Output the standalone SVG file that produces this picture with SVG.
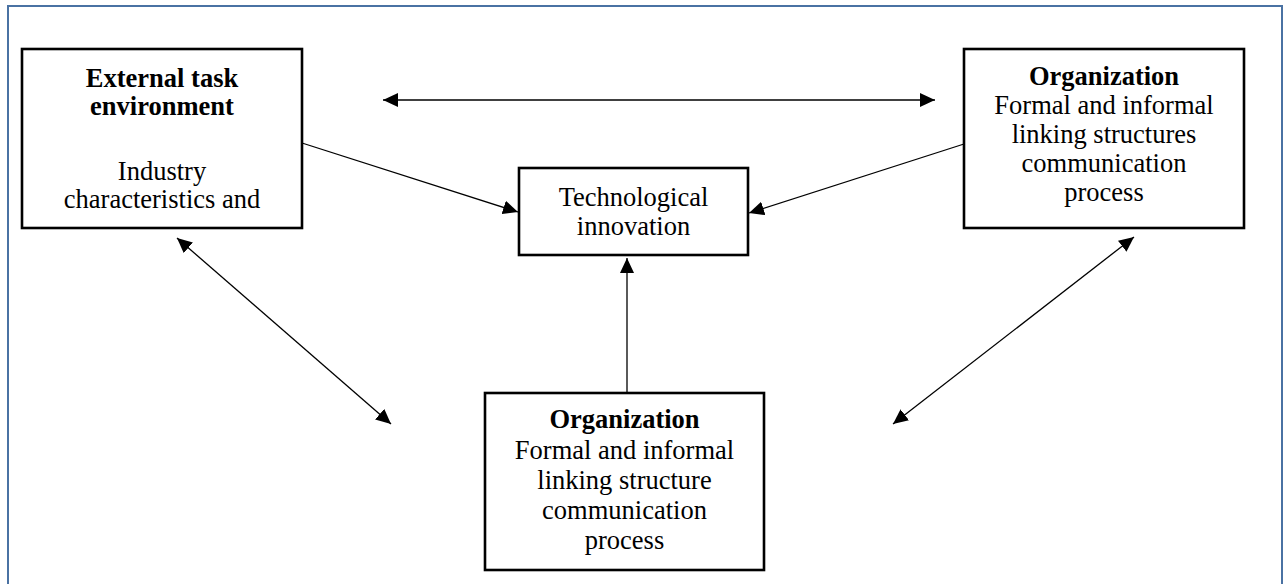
<svg xmlns="http://www.w3.org/2000/svg" width="1284" height="584" viewBox="0 0 1284 584">
  <style>
    .box { fill: #ffffff; stroke: #000000; stroke-width: 2.6; }
    .lbl { font-family: "Liberation Serif", "Times New Roman", serif; font-size: 26.5px; fill: #000000; text-anchor: middle; }
    .hd { font-weight: bold; }
    .link { stroke: #000000; stroke-width: 1.3; fill: none; }
    .one { marker-end: url(#head); }
    .two { marker-start: url(#head); marker-end: url(#head); }
  </style>
  <defs>
    <marker id="head" markerUnits="userSpaceOnUse" markerWidth="15" markerHeight="14" refX="15" refY="7" orient="auto-start-reverse">
      <path d="M0,0 L15,7 L0,14 Z" fill="#000000"/>
    </marker>
  </defs>

  <rect width="1284" height="584" fill="#ffffff"/>
  <!-- page frame -->
  <rect x="8" y="6" width="1274" height="620" fill="none" stroke="#4a72a3" stroke-width="2"/>

  <g id="connectors">
    <line class="link two" x1="383" y1="100" x2="935" y2="100"/>
    <line class="link one" x1="302" y1="143" x2="518" y2="212"/>
    <line class="link one" x1="964" y1="144" x2="749" y2="213"/>
    <line class="link one" x1="627" y1="393" x2="627" y2="258"/>
    <line class="link two" x1="177" y1="238" x2="391" y2="424"/>
    <line class="link two" x1="1134" y1="237" x2="893" y2="424"/>
  </g>

  <g id="external-task-environment">
    <rect class="box" x="22" y="49" width="280" height="179"/>
    <text class="lbl hd" x="162" y="87">External task</text>
    <text class="lbl hd" x="162" y="115">environment</text>
    <text class="lbl" x="162" y="180">Industry</text>
    <text class="lbl" x="162" y="208">characteristics and</text>
  </g>

  <g id="technological-innovation">
    <rect class="box" x="519" y="168" width="229" height="87"/>
    <text class="lbl" x="633.5" y="206">Technological</text>
    <text class="lbl" x="633.5" y="235">innovation</text>
  </g>

  <g id="organization-right">
    <rect class="box" x="964" y="49" width="280" height="179"/>
    <text class="lbl hd" x="1104" y="85">Organization</text>
    <text class="lbl" x="1104" y="114">Formal and informal</text>
    <text class="lbl" x="1104" y="143">linking structures</text>
    <text class="lbl" x="1104" y="172">communication</text>
    <text class="lbl" x="1104" y="201">process</text>
  </g>

  <g id="organization-bottom">
    <rect class="box" x="485" y="393" width="279" height="177"/>
    <text class="lbl hd" x="624.5" y="428">Organization</text>
    <text class="lbl" x="624.5" y="459">Formal and informal</text>
    <text class="lbl" x="624.5" y="489">linking structure</text>
    <text class="lbl" x="624.5" y="519">communication</text>
    <text class="lbl" x="624.5" y="549">process</text>
  </g>
</svg>
